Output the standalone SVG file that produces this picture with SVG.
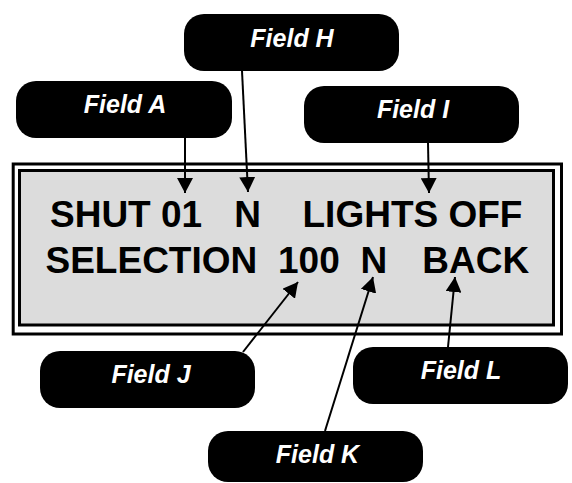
<svg xmlns="http://www.w3.org/2000/svg" width="572" height="483" viewBox="0 0 572 483">
<style>
.box{fill:#000;}
.lbl{font-family:"Liberation Sans",Arial,sans-serif;font-size:25px;font-weight:bold;font-style:italic;fill:#fff;text-anchor:middle;}
.disp{font-family:"Liberation Sans",Arial,sans-serif;font-size:37px;font-weight:bold;fill:#000;}
.conn{stroke:#000;stroke-width:2;fill:none;marker-end:url(#arr);}
</style>
<defs>
<marker id="arr" viewBox="0 0 15 16" refX="15" refY="8" markerWidth="15" markerHeight="16" markerUnits="userSpaceOnUse" orient="auto">
<path d="M0,0 L15,8 L0,16 z" fill="#000"/>
</marker>
</defs>
<rect width="572" height="483" fill="#fff"/>
<g id="display">
<rect x="13.2" y="164" width="548.3" height="170" fill="#fff" stroke="#000" stroke-width="3"/>
<rect x="19.5" y="170.5" width="534" height="154.5" fill="#dcdcdc" stroke="#000" stroke-width="3"/>
<text class="disp" y="227"><tspan x="50">SHUT 01</tspan><tspan x="234.3">N</tspan><tspan x="302.5">LIGHTS OFF</tspan></text>
<text class="disp" y="272.5"><tspan x="45.5">SELECTION</tspan><tspan x="278">100</tspan><tspan x="360.4">N</tspan><tspan x="422.3">BACK</tspan></text>
</g>
<g id="fieldA"><rect class="box" x="16" y="81" width="216" height="57" rx="20"/><text class="lbl" x="125" y="113">Field A</text></g>
<g id="fieldH"><rect class="box" x="184" y="14" width="215" height="57" rx="20"/><text class="lbl" x="292" y="47">Field H</text></g>
<g id="fieldI"><rect class="box" x="304" y="86" width="215" height="57" rx="20"/><text class="lbl" x="413" y="118">Field I</text></g>
<g id="fieldJ"><rect class="box" x="40" y="351" width="215" height="57" rx="20"/><text class="lbl" x="151" y="383">Field J</text></g>
<g id="fieldL"><rect class="box" x="353" y="347" width="215" height="57" rx="20"/><text class="lbl" x="461" y="379">Field L</text></g>
<g id="fieldK"><rect class="box" x="208" y="431" width="215" height="51" rx="20"/><text class="lbl" x="317.5" y="463">Field K</text></g>
<g id="connectors">
<line class="conn" x1="185" y1="138" x2="185" y2="193"/>
<line class="conn" x1="242" y1="71" x2="248" y2="192"/>
<line class="conn" x1="428" y1="143" x2="429" y2="193"/>
<line class="conn" x1="243" y1="352" x2="298" y2="282"/>
<line class="conn" x1="325" y1="431" x2="373" y2="277"/>
<line class="conn" x1="448" y1="347" x2="455" y2="277"/>
</g>
</svg>
